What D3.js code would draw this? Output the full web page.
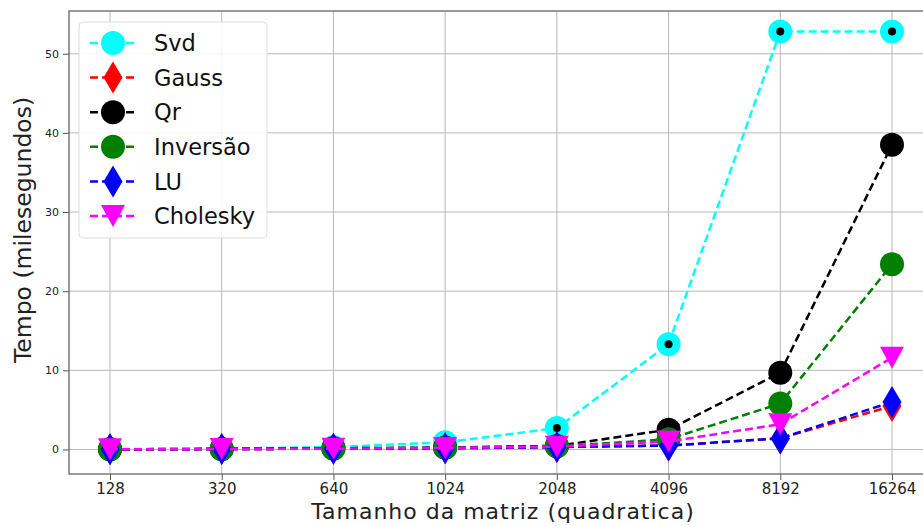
<!DOCTYPE html>
<html>
<head>
<meta charset="utf-8">
<script src="https://cdn.jsdelivr.net/npm/d3@7"></script>
<style>
  body { margin: 0; background: #fff; }
  svg { display: block; font-family: "DejaVu Sans", sans-serif; }
</style>
</head>
<body>
<div id="container"></div>
<script>
/* CONSTANTS AND GLOBALS */
const width = 923,
  height = 526,
  margin = { top: 11, bottom: 52, left: 69, right: -10 }

// DATA
const sizes = ["128", "320", "640", "1024", "2048", "4096", "8192", "16264"]
const yTicks = [0, 10, 20, 30, 40, 50]

const svdVals = [0.05, 0.1, 0.3, 0.9, 2.7, 13.3, 52.8, 52.8]
const gaussVals = [0.02, 0.05, 0.1, 0.15, 0.3, 0.5, 1.4, 5.5]
const qrVals = [0.03, 0.07, 0.15, 0.25, 0.45, 2.5, 9.7, 38.5]
const invVals = [0.02, 0.05, 0.1, 0.2, 0.4, 1.3, 5.8, 23.4]
const luVals = [0.02, 0.05, 0.1, 0.15, 0.3, 0.5, 1.4, 6.0]
const cholVals = [0.02, 0.05, 0.1, 0.2, 0.35, 1.0, 3.2, 11.6]

const series = [
  { name: "Svd", color: "#00ffff", marker: "circle", values: svdVals, dots: true },
  { name: "Gauss", color: "#ff0000", marker: "diamond", values: gaussVals },
  { name: "Qr", color: "#000000", marker: "circle", values: qrVals },
  { name: "Inversão", color: "#008000", marker: "circle", values: invVals },
  { name: "LU", color: "#0000ff", marker: "diamond", values: luVals },
  { name: "Cholesky", color: "#ff00ff", marker: "triangle", values: cholVals }
]

// marker shapes
function markerPath(type) {
  if (type === "circle") return d3.symbol(d3.symbolCircle, Math.PI * 12 * 12)()
  if (type === "diamond") return "M0,-16L9.5,0L0,16L-9.5,0Z"
  return "M0,11L-12,-11L12,-11Z"
}

/* SCALES */
const xScale = d3.scalePoint()
  .domain(sizes)
  .range([margin.left, width - margin.right])
  .padding(0.367)

const yScale = d3.scaleLinear()
  .domain([-3.1, 55.4])
  .range([height - margin.bottom, margin.top])

const svg = d3.select("#container")
  .append("svg")
  .attr("width", width)
  .attr("height", height)

// GRID
svg.append("g")
  .selectAll("line")
  .data(yTicks)
  .join("line")
  .attr("x1", margin.left).attr("x2", width - margin.right)
  .attr("y1", d => yScale(d)).attr("y2", d => yScale(d))
  .attr("stroke", "#b8b8b8").attr("stroke-width", 1)

svg.append("g")
  .selectAll("line")
  .data(sizes)
  .join("line")
  .attr("x1", d => xScale(d)).attr("x2", d => xScale(d))
  .attr("y1", margin.top).attr("y2", height - margin.bottom)
  .attr("stroke", "#b8b8b8").attr("stroke-width", 1)

// AXES
const xAxis = d3.axisBottom(xScale).tickSize(6).tickPadding(3)
const xAxisGroup = svg.append("g")
  .attr("transform", `translate(0, ${height - margin.bottom})`)
  .call(xAxis)
xAxisGroup.select(".domain").remove()
xAxisGroup.selectAll("line").attr("stroke", "#555")
xAxisGroup.selectAll("text")
  .style("font-family", "DejaVu Sans").style("font-size", "15px").attr("fill", "#222")

const yAxis = d3.axisLeft(yScale).tickValues(yTicks).tickSize(6).tickPadding(4)
const yAxisGroup = svg.append("g")
  .attr("transform", `translate(${margin.left}, 0)`)
  .call(yAxis)
yAxisGroup.select(".domain").remove()
yAxisGroup.selectAll("line").attr("stroke", "#555")
yAxisGroup.selectAll("text")
  .style("font-family", "DejaVu Sans").style("font-size", "11px").attr("fill", "#222")

// frame
svg.append("rect")
  .attr("x", margin.left).attr("y", margin.top)
  .attr("width", width - margin.right - margin.left)
  .attr("height", height - margin.bottom - margin.top)
  .attr("fill", "none").attr("stroke", "#666").attr("stroke-width", 1.3)

// LINES + MARKERS
const lineGen = d3.line()
  .x((d, i) => xScale(sizes[i]))
  .y(d => yScale(d))

series.forEach(s => {
  const g = svg.append("g")
  g.append("path")
    .attr("d", lineGen(s.values))
    .attr("fill", "none")
    .attr("stroke", s.color)
    .attr("stroke-width", 2.5)
    .attr("stroke-dasharray", "8,4")
  g.selectAll(".mk")
    .data(s.values)
    .join("path")
    .attr("class", "mk")
    .attr("d", markerPath(s.marker))
    .attr("transform", (d, i) => `translate(${xScale(sizes[i])},${yScale(d)})`)
    .attr("fill", s.color)
  if (s.dots) {
    g.selectAll(".dot")
      .data(s.values)
      .join("circle")
      .attr("class", "dot")
      .attr("cx", (d, i) => xScale(sizes[i]))
      .attr("cy", d => yScale(d))
      .attr("r", 4)
      .attr("fill", "#000")
  }
})

// LEGEND
const legend = svg.append("g").attr("transform", "translate(79, 22)")
legend.append("rect")
  .attr("width", 188).attr("height", 216).attr("rx", 4)
  .attr("fill", "#fff").attr("fill-opacity", 0.85)
  .attr("stroke", "#dcdcdc").attr("stroke-width", 1)

series.forEach((s, i) => {
  const y = 21 + i * 34.6
  legend.append("line")
    .attr("x1", 11).attr("x2", 56).attr("y1", y).attr("y2", y)
    .attr("stroke", s.color).attr("stroke-width", 2.5)
    .attr("stroke-dasharray", "8,4")
  legend.append("path")
    .attr("d", markerPath(s.marker))
    .attr("transform", `translate(34,${y})`)
    .attr("fill", s.color)
  legend.append("text")
    .attr("x", 75).attr("y", y)
    .attr("dy", "0.36em")
    .style("font-size", "22.5px")
    .attr("fill", "#111")
    .text(s.name)
})

// TITLES
svg.append("text")
  .attr("transform", "translate(23, 230) rotate(-90)")
  .attr("dy", "0.36em")
  .style("text-anchor", "middle")
  .style("font-size", "23.5px")
  .attr("fill", "#222")
  .text("Tempo (milesegundos)")

svg.append("text")
  .attr("x", 503).attr("y", 519)
  .style("text-anchor", "middle")
  .style("font-size", "22px")
  .style("letter-spacing", "1px")
  .attr("fill", "#222")
  .text("Tamanho da matriz (quadratica)")
</script>
</body>
</html>
